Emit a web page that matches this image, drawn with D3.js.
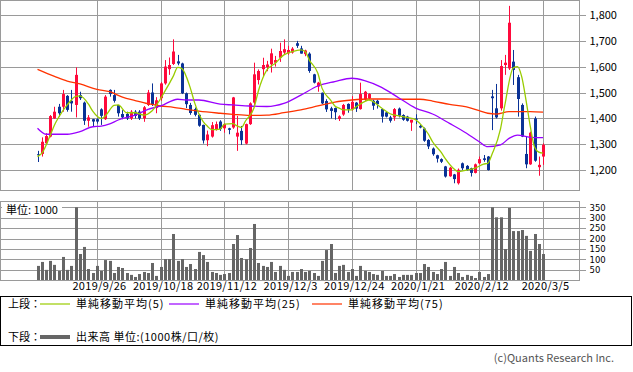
<!DOCTYPE html>
<html>
<head>
<meta charset="utf-8">
<script src="https://cdn.jsdelivr.net/npm/d3@7"></script>
<style>
body { margin:0; background:#fff; }
svg { display:block; font-family:"Noto Sans CJK JP","Noto Sans",sans-serif; }
</style>
</head>
<body>
<div id="chart"></div>
<script>
// daily candles, 2019/9/4 .. 2020/3/5
var opens = [1262,1263,1304,1330,1400,1445,1445,1487,1468,1452, 1490,1461,1391,1397,1397,1435,1397,1510,1490,1452,
    1417,1417,1400,1426,1426,1400,1452,1500,1440,1478, 1535,1590,1610,1620,1612,1497,1452,1436,1414,1375,
    1316,1330,1356,1388,1362,1362,1365,1330,1352,1303, 1378,1461,1548,1590,1598,1609,1615,1634,1654,1651,
    1654,1690,1670,1648,1650,1570,1523,1499,1467,1439, 1440,1398,1415,1456,1436,1461,1436,1474,1477,1468,
    1468,1436,1423,1404,1404,1438,1413,1407,1384,1399, 1371,1361,1317,1284,1258,1243,1215,1177,1184,1150,
    1227,1217,1208,1190,1227,1246,1253,1485,1439,1439, 1606,1593,1619,1559,1452,1263,1223,1400,1212,1253]
var highs = [1275,1327,1343,1413,1445,1456,1510,1490,1510,1597, 1503,1465,1413,1398,1400,1439,1490,1512,1510,1452,
    1432,1426,1432,1432,1432,1448,1510,1535,1482,1540, 1625,1635,1705,1645,1615,1500,1460,1442,1416,1376,
    1353,1386,1388,1393,1381,1364,1483,1410,1371,1380, 1462,1615,1589,1634,1622,1669,1641,1692,1705,1680,
    1675,1699,1680,1665,1655,1572,1541,1500,1474,1445, 1442,1412,1456,1458,1486,1463,1538,1506,1497,1472,
    1472,1438,1426,1410,1440,1442,1416,1410,1395,1416, 1376,1365,1320,1288,1260,1246,1217,1213,1186,1207,
    1230,1220,1210,1226,1253,1259,1255,1510,1533,1625, 1645,1834,1664,1568,1458,1330,1349,1407,1253,1304]
var lows = [1232,1253,1301,1327,1398,1407,1426,1426,1426,1404, 1471,1375,1368,1368,1380,1375,1394,1484,1461,1407,
    1397,1394,1394,1400,1394,1387,1448,1448,1420,1468, 1530,1568,1606,1605,1494,1440,1414,1408,1368,1303,
    1293,1326,1353,1352,1345,1339,1360,1275,1298,1300, 1375,1452,1531,1560,1582,1577,1600,1618,1647,1645,
    1650,1672,1650,1640,1576,1535,1503,1455,1425,1400, 1395,1390,1410,1422,1430,1425,1434,1468,1472,1433,
    1438,1384,1404,1384,1391,1404,1391,1388,1352,1378, 1362,1310,1282,1256,1230,1228,1172,1175,1150,1145,
    1201,1198,1176,1188,1224,1233,1199,1355,1400,1430, 1568,1587,1529,1407,1328,1208,1221,1233,1179,1221]
var closes = [1258,1310,1332,1409,1426,1420,1494,1433,1458,1568, 1478,1391,1404,1388,1388,1410,1484,1494,1468,1420,
    1404,1400,1426,1410,1400,1443,1500,1452,1470,1535, 1600,1606,1658,1612,1497,1455,1421,1414,1372,1315,
    1338,1374,1378,1359,1378,1356,1481,1345,1316,1378, 1458,1570,1583,1606,1608,1651,1625,1660,1667,1664,
    1669,1680,1650,1662,1583,1538,1538,1458,1435,1429, 1424,1408,1452,1435,1464,1438,1494,1503,1494,1449,
    1455,1407,1407,1391,1436,1410,1395,1391,1395,1395, 1365,1314,1292,1262,1245,1233,1176,1210,1166,1202,
    1208,1201,1190,1223,1243,1240,1201,1478,1404,1602, 1615,1769,1587,1475,1330,1223,1345,1237,1221,1298]
var volumes = [69,88,50,93,74,45,112,50,69,350, 126,160,54,35,69,45,97,93,35,64,
    59,35,26,16,30,40,35,83,21,64, 102,102,222,93,102,64,78,54,136,121,
    88,40,35,26,30,35,174,217,107,101, 155,270,83,69,64,88,40,69,50,21,
    40,40,54,40,45,35,21,93,145,174, 35,69,74,40,54,21,69,45,40,30,
    26,45,21,21,30,16,26,26,26,35, 35,78,64,40,30,54,88,21,64,35,
    16,26,21,11,40,16,30,350,302,302, 150,347,236,236,241,213,141,222,174,126]

// moving averages (candle index, value)
var ma5Idx = [0,1,3,4,5,7,9,10,12,13,15,16,18,19,21,23,25,27,30,32,33,34,36,37,39,40,41,43,44,46,
    47,48,49,51,52,54,56,58,60,62,63,64,66,67,69,70,71,72,74,75,77,78,79,81,83,85,87,89,90,92,
    93,95,96,98,99,101,103,105,106,107,109,110,112,113,114,115,116,117,118,119]
var ma5Val = [1253,1265,1335,1375,1405,1452,1485,1487,1455,1428,1400,1410,1450,1452,1422,1422,1413,1430,1505,1564,
    1597,1592,1516,1460,1388,1370,1357,1359,1378,1380,1371,1365,1391,1442,1506,1587,1613,1645,1658,1664,
    1658,1625,1574,1516,1471,1448,1440,1433,1433,1445,1465,1471,1465,1440,1418,1410,1404,1395,1381,1340,
    1310,1270,1245,1206,1195,1201,1208,1224,1227,1262,1360,1450,1595,1600,1560,1471,1370,1290,1270,1266]
var ma25Idx = [0,2,7,10,13,15,17,19,23,26,29,33,35,38,43,46,50,54,58,62,66,70,74,77,81,85,89,93,97,101,104,106,109,111,113,116,119]
var ma25Val = [1362,1339,1339,1349,1368,1370,1379,1394,1413,1435,1448,1474,1471,1471,1455,1452,1448,1446,1458,1490,
    1525,1542,1555,1546,1520,1480,1440,1417,1381,1343,1310,1291,1298,1323,1336,1327,1326]
var ma75Idx = [0,4,7,10,14,17,20,23,26,29,32,35,38,43,46,50,54,58,62,66,70,74,78,82,86,90,93,97,101,104,106,108,111,116,119]
var ma75Val = [1589,1562,1544,1533,1512,1503,1482,1469,1457,1448,1443,1435,1428,1420,1416,1412,1413,1422,1433,1448,
    1463,1471,1475,1475,1474,1474,1467,1454,1445,1430,1420,1417,1426,1426,1424]

var dateIdx = [14,29,44,59,74,89,104,119]
var dateLabels = ["2019/9/26","2019/10/18","2019/11/12","2019/12/3","2019/12/24","2020/1/21","2020/2/12","2020/3/5"]
var priceTicks = [1200,1300,1400,1500,1600,1700,1800]
var volTicks = [50,100,150,200,250,300,350]

var width = 633, height = 372
var plot = { left:0.5, right:579.5, top:0.5, bottom:190.5 },
    vol = { top:201.5, bottom:280.5 }
var gridColor = "#9a9a9a",
    upColor = "#ff0a3c",
    downColor = "#0a3296",
    volColor = "#666666"

var svg = d3.select("#chart").append("svg")
    .attr("width", width)
    .attr("height", height)

var x = d3.scaleLinear().domain([0, opens.length - 1]).range([37.5, 543])
var y = d3.scaleLinear().domain([1200, 1800]).range([170.3, 14.7])
var yv = d3.scaleLinear().domain([0, 350]).range([280.3, 207.3])

function styleGrid(g){
    g.select(".domain").remove()
    g.selectAll("line").attr("stroke", gridColor).attr("shape-rendering", "crispEdges")
}
function styleLabels(g, size, family){
    g.selectAll("text").attr("fill", "#000").style("font-size", size)
        .style("font-family", family || "'Noto Sans CJK JP', sans-serif")
}

// ---- top panel: grid
svg.append("g")
    .attr("transform", "translate(" + plot.right + ",0)")
    .call(d3.axisLeft(y).tickValues(priceTicks).tickSize(plot.right - plot.left).tickFormat(""))
    .call(styleGrid)

svg.append("g")
    .attr("transform", "translate(0," + plot.bottom + ")")
    .call(d3.axisBottom(x).tickValues(dateIdx).tickSize(-(plot.bottom - plot.top)).tickFormat(""))
    .call(styleGrid)

svg.append("g")
    .attr("transform", "translate(" + plot.right + ",0)")
    .call(d3.axisRight(y).tickValues(priceTicks).tickSize(6).tickPadding(4).tickFormat(d3.format(",")))
    .call(styleGrid)
    .call(styleLabels, "11px")

svg.append("rect")
    .attr("x", plot.left).attr("y", plot.top)
    .attr("width", plot.right - plot.left).attr("height", plot.bottom - plot.top)
    .attr("fill", "none").attr("stroke", gridColor).attr("shape-rendering", "crispEdges")

// ---- candles
var idx = d3.range(opens.length)
var candle = svg.append("g").selectAll("g")
    .data(idx)
    .join("g")
        .attr("fill", function(i){ return closes[i] >= opens[i] ? upColor : downColor })
        .attr("stroke", function(i){ return closes[i] >= opens[i] ? upColor : downColor })

candle.append("line")
    .attr("x1", function(i){ return Math.round(x(i)) + 0.5 })
    .attr("x2", function(i){ return Math.round(x(i)) + 0.5 })
    .attr("y1", function(i){ return y(highs[i]) })
    .attr("y2", function(i){ return y(lows[i]) })
    .attr("stroke-width", 1)

candle.append("rect")
    .attr("x", function(i){ return Math.round(x(i)) - 1 })
    .attr("width", 3)
    .attr("y", function(i){ return y(Math.max(opens[i], closes[i])) })
    .attr("height", function(i){ return Math.max(1, Math.abs(y(opens[i]) - y(closes[i]))) })
    .attr("stroke", "none")

// ---- moving averages
var maLine = d3.line()
    .x(function(d){ return x(d[0]) })
    .y(function(d){ return y(d[1]) })
    .curve(d3.curveMonotoneX)

var maSeries = [
    { idx: ma75Idx, val: ma75Val, color: "#ff3300" },
    { idx: ma25Idx, val: ma25Val, color: "#9900ff" },
    { idx: ma5Idx,  val: ma5Val,  color: "#99cc00" }
]
maSeries.forEach(function(s){
    svg.append("path")
        .datum(d3.zip(s.idx, s.val))
        .attr("d", maLine)
        .attr("fill", "none")
        .attr("stroke", s.color)
        .attr("stroke-width", 1.3)
})

// ---- volume panel
svg.append("g")
    .attr("transform", "translate(" + plot.right + ",0)")
    .call(d3.axisLeft(yv).tickValues(volTicks).tickSize(plot.right - plot.left).tickFormat(""))
    .call(styleGrid)

svg.append("g")
    .attr("transform", "translate(0," + vol.bottom + ")")
    .call(d3.axisBottom(x).tickValues(dateIdx).tickSize(-(vol.bottom - vol.top)).tickFormat(""))
    .call(styleGrid)

svg.append("g")
    .attr("transform", "translate(" + plot.right + ",0)")
    .call(d3.axisRight(yv).tickValues(volTicks).tickSize(6).tickPadding(4))
    .call(styleGrid)
    .call(styleLabels, "8.5px", "'DejaVu Sans', sans-serif")

svg.append("g").selectAll("rect")
    .data(idx)
    .join("rect")
        .attr("x", function(i){ return Math.round(x(i)) - 1 })
        .attr("width", 3)
        .attr("y", function(i){ return yv(volumes[i]) })
        .attr("height", function(i){ return yv(0) - yv(volumes[i]) })
        .attr("fill", volColor)

svg.append("rect")
    .attr("x", plot.left).attr("y", vol.top)
    .attr("width", plot.right - plot.left).attr("height", vol.bottom - vol.top)
    .attr("fill", "none").attr("stroke", gridColor).attr("shape-rendering", "crispEdges")

svg.append("rect")
    .attr("x", 2).attr("y", 203).attr("width", 60).attr("height", 13).attr("fill", "#fff")
svg.append("text")
    .attr("x", 6).attr("y", 214)
    .style("font-size", "11px")
    .text("単位: 1000")

// ---- date labels
svg.append("g")
    .attr("transform", "translate(2," + vol.bottom + ")")
    .call(d3.axisBottom(x).tickValues(dateIdx).tickSize(0).tickPadding(2)
        .tickFormat(function(d, i){ return dateLabels[i] }))
    .call(function(g){ g.select(".domain").remove() })
    .call(styleLabels, "11px")
    .selectAll("text").style("letter-spacing", "0.3px")

// ---- legend
var legend = svg.append("g")
legend.append("rect")
    .attr("x", 0.5).attr("y", 296.5).attr("width", 631).attr("height", 49)
    .attr("fill", "none").attr("stroke", "#000").attr("shape-rendering", "crispEdges")

var legendItems = [
    { x: 40,  label: "単純移動平均(5)",  color: "#99cc00" },
    { x: 169, label: "単純移動平均(25)", color: "#9900ff" },
    { x: 312, label: "単純移動平均(75)", color: "#ff3300" }
]
legend.append("text").attr("x", 8).attr("y", 308).style("font-size", "11px").text("上段：")
legendItems.forEach(function(d){
    legend.append("line")
        .attr("x1", d.x).attr("x2", d.x + 30).attr("y1", 304).attr("y2", 304)
        .attr("stroke", d.color).attr("stroke-width", 1.2)
    legend.append("text")
        .attr("x", d.x + 36).attr("y", 308)
        .style("font-size", "11px")
        .style("letter-spacing", "1px")
        .text(d.label)
})
legend.append("text").attr("x", 8).attr("y", 341).style("font-size", "11px").text("下段：")
legend.append("line")
    .attr("x1", 40).attr("x2", 70).attr("y1", 337).attr("y2", 337)
    .attr("stroke", volColor).attr("stroke-width", 4)
legend.append("text")
    .attr("x", 76).attr("y", 341)
    .style("font-size", "11px")
    .style("letter-spacing", "0.5px")
    .text("出来高 単位:(1000株/口/枚)")

svg.append("text")
    .attr("x", 614).attr("y", 362)
    .attr("text-anchor", "end")
    .attr("fill", "#555")
    .style("font-size", "11px")
    .text("(c)Quants Research Inc.")
</script>
</body>
</html>
